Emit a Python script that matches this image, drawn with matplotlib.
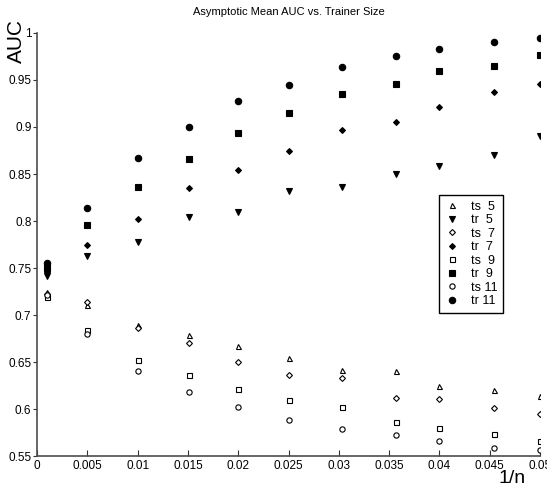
import numpy as np
import matplotlib.pyplot as plt
from matplotlib.ticker import FuncFormatter

plt.rcParams['font.family'] = ['Liberation Sans', 'DejaVu Sans']

# 1/n values (trainer sizes)
inv_n = [0.001, 0.005, 0.01, 0.01515, 0.02, 0.025, 0.0303, 0.0357, 0.04, 0.04545, 0.05]

ts5 = [0.725, 0.711, 0.689, 0.679, 0.667, 0.654, 0.642, 0.640, 0.624, 0.620, 0.614]
tr5 = [0.741, 0.763, 0.778, 0.804, 0.810, 0.832, 0.836, 0.850, 0.859, 0.870, 0.890]
ts7 = [0.722, 0.714, 0.686, 0.670, 0.650, 0.636, 0.633, 0.612, 0.611, 0.601, 0.595]
tr7 = [0.746, 0.774, 0.802, 0.835, 0.854, 0.875, 0.897, 0.905, 0.921, 0.937, 0.946]
ts9 = [0.719, 0.684, 0.652, 0.636, 0.621, 0.610, 0.602, 0.586, 0.580, 0.573, 0.566]
tr9 = [0.750, 0.796, 0.836, 0.866, 0.894, 0.915, 0.935, 0.946, 0.960, 0.965, 0.977]
ts11 = [0.721, 0.680, 0.640, 0.618, 0.602, 0.588, 0.579, 0.572, 0.566, 0.558, 0.556]
tr11 = [0.755, 0.814, 0.867, 0.900, 0.928, 0.945, 0.964, 0.976, 0.983, 0.990, 0.995]

labels = ['ts  5', 'tr  5', 'ts  7', 'tr  7', 'ts  9', 'tr  9', 'ts 11', 'tr 11']
series = [ts5, tr5, ts7, tr7, ts9, tr9, ts11, tr11]
markers = ['^', 'v', 'D', 'D', 's', 's', 'o', 'o']
filled = [False, True, False, True, False, True, False, True]
sizes = [3.6, 4.0, 3.0, 3.0, 3.6, 4.2, 3.8, 4.6]

fig = plt.figure(figsize=(5.47, 4.90), dpi=100)
ax = fig.add_axes([37/547, 1 - 456/490, 503/547, 423/490])

for y, lab, m, f, s in zip(series, labels, markers, filled, sizes):
    ax.plot(inv_n, y, linestyle='none', marker=m, markersize=s,
            markerfacecolor='black' if f else 'white',
            markeredgecolor='black', markeredgewidth=0.8, label=lab)

ax.set_xlim(0, 0.05)
ax.set_ylim(0.55, 1.0)
ax.set_xticks(np.arange(0, 0.0501, 0.005))
ax.set_yticks(np.arange(0.55, 1.001, 0.05))
ax.xaxis.set_major_formatter(FuncFormatter(lambda v, p: '%g' % round(v, 4)))
ax.yaxis.set_major_formatter(FuncFormatter(lambda v, p: '%g' % round(v, 4)))

for side in ['top', 'right']:
    ax.spines[side].set_visible(False)
for side in ['left', 'bottom']:
    ax.spines[side].set_color('#4d4d4d')
    ax.spines[side].set_linewidth(1.2)
ax.tick_params(axis='x', direction='in', length=4, labelsize=8.5, colors='#333333',
               labelcolor='black', pad=3)
ax.tick_params(axis='y', direction='out', length=3, labelsize=8.5, colors='#333333',
               labelcolor='black', pad=1)

ax.set_title('Asymptotic Mean AUC vs. Trainer Size', fontsize=8, pad=13)
fig.text(16/547, 1 - 41/490, 'AUC', rotation=90, fontsize=15, ha='center', va='center')
fig.text(512/547, 1 - 478/490, '1/n', fontsize=14, ha='center', va='center')

leg = ax.legend(loc='upper left', bbox_to_anchor=((439 - 37)/503, (456 - 195)/423),
                fontsize=9, frameon=True, fancybox=False, framealpha=1,
                edgecolor='black', handlelength=1.2, handletextpad=0.9,
                labelspacing=0.12, borderpad=0.45, borderaxespad=0)
leg.get_frame().set_linewidth(1.0)

fig.savefig('out.png', dpi=100)
